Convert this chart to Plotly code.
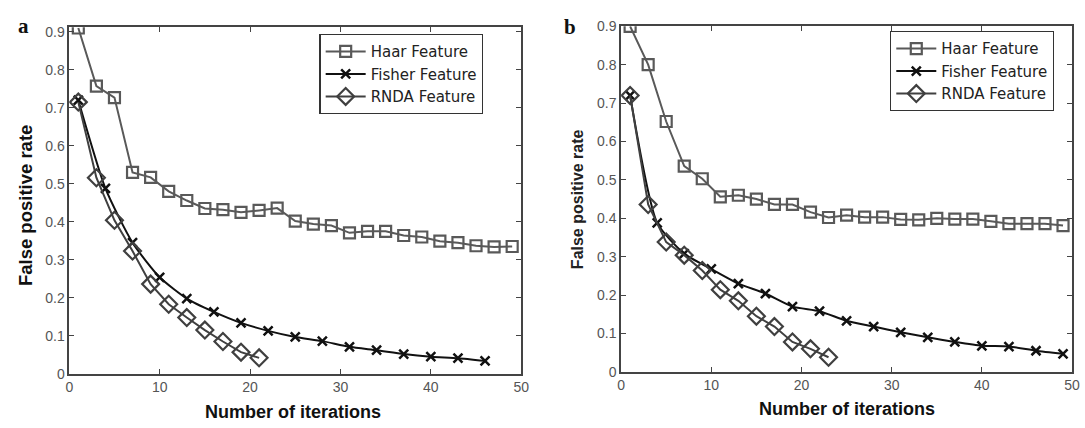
import plotly.graph_objects as go

# ---------------- data ----------------
# Panel a
haar_a_x = [1, 3, 5, 7, 9, 11, 13, 15, 17, 19, 21, 23, 25, 27, 29, 31, 33, 35, 37, 39, 41, 43, 45, 47, 49]
haar_a_y = [0.91, 0.757, 0.727, 0.53, 0.517, 0.48, 0.456, 0.435, 0.432, 0.425, 0.43, 0.436, 0.402,
            0.394, 0.39, 0.371, 0.375, 0.375, 0.364, 0.36, 0.349, 0.345, 0.337, 0.334, 0.335]
fisher_a_x = [1, 4, 7, 10, 13, 16, 19, 22, 25, 28, 31, 34, 37, 40, 43, 46]
fisher_a_y = [0.72, 0.488, 0.345, 0.254, 0.198, 0.163, 0.134, 0.113, 0.097, 0.086, 0.071, 0.062,
              0.052, 0.045, 0.041, 0.034]
rnda_a_x = [1, 3, 5, 7, 9, 11, 13, 15, 17, 19, 21]
rnda_a_y = [0.715, 0.516, 0.404, 0.323, 0.236, 0.183, 0.148, 0.115, 0.085, 0.057, 0.042]

# Panel b
haar_b_x = [1, 3, 5, 7, 9, 11, 13, 15, 17, 19, 21, 23, 25, 27, 29, 31, 33, 35, 37, 39, 41, 43, 45, 47, 49]
haar_b_y = [0.9, 0.8, 0.652, 0.536, 0.503, 0.456, 0.46, 0.45, 0.436, 0.436, 0.416, 0.402, 0.408,
            0.403, 0.403, 0.397, 0.396, 0.4, 0.398, 0.398, 0.392, 0.386, 0.386, 0.386, 0.381]
fisher_b_x = [1, 4, 7, 10, 13, 16, 19, 22, 25, 28, 31, 34, 37, 40, 43, 46, 49]
fisher_b_y = [0.72, 0.388, 0.308, 0.268, 0.23, 0.204, 0.17, 0.158, 0.133, 0.118, 0.103, 0.09,
              0.078, 0.068, 0.066, 0.055, 0.047]
rnda_b_x = [1, 3, 5, 7, 9, 11, 13, 15, 17, 19, 21, 23]
rnda_b_y = [0.72, 0.436, 0.338, 0.304, 0.264, 0.214, 0.185, 0.145, 0.118, 0.078, 0.06, 0.038]

series_names = ["Haar Feature", "Fisher Feature", "RNDA Feature"]
x_ticks = [0, 10, 20, 30, 40, 50]
y_ticks = [0, 0.1, 0.2, 0.3, 0.4, 0.5, 0.6, 0.7, 0.8, 0.9]
y_tick_text = ["0", "0.1", "0.2", "0.3", "0.4", "0.5", "0.6", "0.7", "0.8", "0.9"]
x_title = "Number of iterations"
y_title = "False positive rate"

# ---------------- styling ----------------
W, H = 1085, 428
C_HAAR = "#595959"
C_FISHER = "#111111"
C_RNDA = "#404040"
SANS = "Liberation Sans, Arial, sans-serif"

fig = go.Figure()


def add_panel(xa, ya, legend, hx, hy, fx, fy, rx, ry):
    fig.add_trace(go.Scatter(
        x=hx, y=hy, name=series_names[0], mode="lines+markers",
        xaxis=xa, yaxis=ya, legend=legend,
        line=dict(color=C_HAAR, width=2),
        marker=dict(symbol="square-open", size=11, color=C_HAAR, line=dict(width=2.2, color=C_HAAR)),
    ))
    fig.add_trace(go.Scatter(
        x=fx, y=fy, name=series_names[1], mode="lines+markers",
        xaxis=xa, yaxis=ya, legend=legend,
        line=dict(color=C_FISHER, width=2, shape="spline", smoothing=0.6),
        marker=dict(symbol="x-thin-open", size=9, color=C_FISHER, line=dict(width=2.5, color=C_FISHER)),
    ))
    fig.add_trace(go.Scatter(
        x=rx, y=ry, name=series_names[2], mode="lines+markers",
        xaxis=xa, yaxis=ya, legend=legend,
        line=dict(color=C_RNDA, width=2),
        marker=dict(symbol="diamond-open", size=13, color=C_RNDA, line=dict(width=2.2, color=C_RNDA)),
    ))


add_panel("x", "y", "legend", haar_a_x, haar_a_y, fisher_a_x, fisher_a_y, rnda_a_x, rnda_a_y)
add_panel("x2", "y2", "legend2", haar_b_x, haar_b_y, fisher_b_x, fisher_b_y, rnda_b_x, rnda_b_y)


def xaxis_cfg(domain, anchor):
    return dict(domain=domain, anchor=anchor, range=[0, 50], tickvals=x_ticks,
                ticks="inside", ticklen=5, tickwidth=1.2, tickcolor="#444",
                showline=True, linecolor="#444", linewidth=1.5, mirror="ticks",
                showgrid=False, zeroline=False,
                tickfont=dict(family=SANS, size=14, color="#555"))


def yaxis_cfg(domain, anchor, ymax):
    return dict(domain=domain, anchor=anchor, range=[0, ymax], tickvals=y_ticks,
                ticktext=y_tick_text,
                ticks="inside", ticklen=5, tickwidth=1.2, tickcolor="#444",
                showline=True, linecolor="#444", linewidth=1.5, mirror="ticks",
                showgrid=False, zeroline=False,
                tickfont=dict(family=SANS, size=14, color="#555"))


legend_common = dict(
    bgcolor="white", bordercolor="#333", borderwidth=1.2,
    font=dict(family="DejaVu Sans, Liberation Sans, sans-serif", size=15, color="#222"),
    xanchor="left", yanchor="top", itemwidth=40, tracegroupgap=0,
)

fig.update_layout(
    width=W, height=H,
    margin=dict(l=0, r=0, t=0, b=0),
    paper_bgcolor="white", plot_bgcolor="white",
    showlegend=True,
    xaxis=xaxis_cfg([66 / W, 523 / W], "y"),
    yaxis=yaxis_cfg([(H - 380) / H, (H - 20) / H], "x", 0.912),
    xaxis2=xaxis_cfg([624 / W, 1080 / W], "y2"),
    yaxis2=yaxis_cfg([(H - 378) / H, (H - 19) / H], "x2", 0.9),
    legend=dict(x=319 / W, y=1 - 27 / H, **legend_common),
    legend2=dict(x=896 / W, y=1 - 24 / H, **legend_common),
)

annotations = [
    # panel labels
    dict(text="<b>a</b>", x=20 / W, y=1 - 19 / H, font=dict(family="Liberation Serif, Times New Roman, serif", size=21, color="#111")),
    dict(text="<b>b</b>", x=572 / W, y=1 - 20 / H, font=dict(family="Liberation Serif, Times New Roman, serif", size=21, color="#111")),
    # axis titles
    dict(text="<b>" + x_title + "</b>", x=292 / W, y=1 - 420 / H, font=dict(family=SANS, size=18, color="#111")),
    dict(text="<b>" + x_title + "</b>", x=852 / W, y=1 - 417 / H, font=dict(family=SANS, size=18, color="#111")),
    dict(text="<b>" + y_title + "</b>", x=22 / W, y=1 - 205 / H, textangle=-90, font=dict(family=SANS, size=18.5, color="#111")),
    dict(text="<b>" + y_title + "</b>", x=580 / W, y=1 - 199 / H, textangle=-90, font=dict(family=SANS, size=16, color="#222")),
]
for a in annotations:
    a.update(xref="paper", yref="paper", showarrow=False, xanchor="center", yanchor="middle")
fig.update_layout(annotations=annotations)

fig.write_html("out.html")
